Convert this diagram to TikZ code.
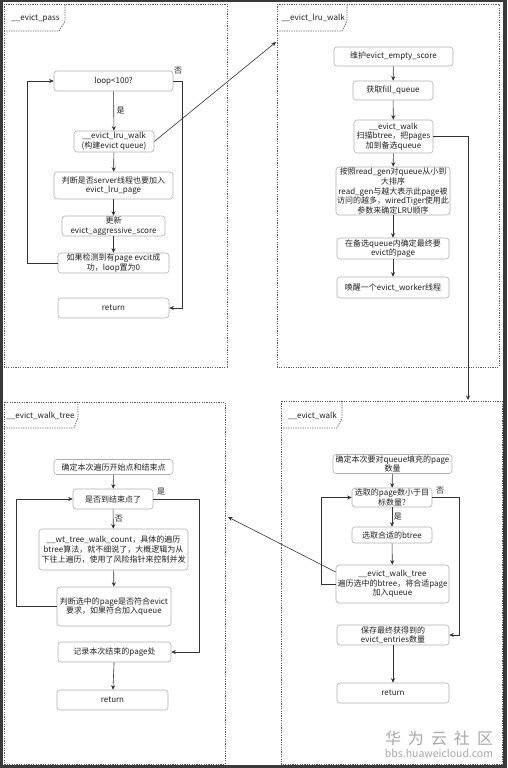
\documentclass[tikz,border=0pt]{standalone}
\usepackage{fontspec}
\setmainfont{Noto Sans CJK SC}
\usetikzlibrary{arrows.meta,calc}
\definecolor{framegray}{HTML}{3A3A3A}
\definecolor{panelgray}{HTML}{5A5A5A}
\definecolor{boxgray}{HTML}{B0B0B0}
\definecolor{linegray}{HTML}{333333}
\definecolor{txtgray}{HTML}{222222}
\definecolor{wmgray}{HTML}{A8A8A8}
\tikzset{
  box/.style={draw=boxgray, line width=0.6pt, rounded corners=3pt, fill=white, align=center,
    inner xsep=1pt, inner ysep=0pt, text=txtgray, font=\fontsize{8}{9.6}\selectfont},
  arr/.style={draw=linegray, line width=0.6pt, -{Stealth[length=4.5pt,width=4pt]}},
  panel/.style={draw=panelgray, line width=0.8pt, dash pattern=on 1.2pt off 1.2pt},
  lbl/.style={text=txtgray, font=\fontsize{8}{9}\selectfont, inner sep=0.5pt},
  tablbl/.style={text=txtgray, font=\fontsize{8}{9}\selectfont, inner sep=0pt}
}
\begin{document}
\begin{tikzpicture}[x=1pt,y=-1pt]
\useasboundingbox (0,0) rectangle (507,768);
\fill[framegray] (0,0) rectangle (507,768);
\fill[white] (2.5,2) rectangle (503,765);

% ---------- panels ----------
\draw[panel] (4,4) rectangle (227,367);
\draw[panel] (4,31) -- (59,31) -- (65,21) -- (65,4);
\node[tablbl] (t1) at (35.5,18) {\_\_evict\_pass};

\draw[panel] (277,4) rectangle (499,367);
\draw[panel] (277,31) -- (342,31) -- (347,21) -- (347,4);
\node[tablbl] (t2) at (313,18) {\_\_evict\_lru\_walk};

\draw[panel] (4,402) rectangle (225,764);
\draw[panel] (4,428) -- (74,428) -- (78,418) -- (78,402);
\node[tablbl] (t3) at (40.5,416) {\_\_evict\_walk\_tree};

\draw[panel] (281,401) rectangle (502,764);
\draw[panel] (281,428) -- (337,428) -- (342,418) -- (342,401);
\node[tablbl] (t4) at (312.5,416) {\_\_evict\_walk};

% ---------- panel 1 ----------
\node[box, minimum width=119pt, minimum height=20pt] (loop) at (113.5,81) {loop<100?};
\node[box, minimum width=80pt, minimum height=21pt] (lru) at (114,141.5) {\_\_evict\_lru\_walk\\(构建evict queue)};
\node[box, minimum width=119pt, minimum height=27pt] (judge) at (113.5,185.5) {判断是否server线程也要加入\\evict\_lru\_page};
\node[box, minimum width=103pt, minimum height=20pt] (upd) at (113.5,226) {更新\\evict\_aggressive\_score};
\node[box, minimum width=111pt, minimum height=20pt] (chk) at (113.5,263) {如果检测到有page evcit成\\功，loop置为0};
\node[box, minimum width=111pt, minimum height=20pt] (ret1) at (113.5,308) {return};

\draw[arr] (loop) -- node[lbl, right, xshift=2pt] {是} (lru);
\draw[arr] (lru) -- (judge);
\draw[arr] (judge) -- (upd);
\draw[arr] (upd) -- (chk);
\draw[arr] (chk.west) -- ++(-30,0) |- (loop.west);
\draw[arr] (loop.east) -- ++(9,0) |- (ret1.east);
\node[lbl] (no1) at (178,71) {否};

\coordinate (p2in) at (276,42);
\draw[arr] (lru.east) -- (p2in);

% ---------- panel 2 ----------
\node[box, minimum width=119pt, minimum height=19pt] (m1) at (393.5,56.5) {维护evict\_empty\_score};
\node[box, minimum width=80pt, minimum height=19pt] (m2) at (393,90.5) {获取fill\_queue};
\node[box, minimum width=79pt, minimum height=33pt] (m3) at (393.5,136.5) {\_\_evict\_walk\\扫描btree，把pages\\加到备选queue};
\node[box, minimum width=112pt, minimum height=48pt] (m4) at (393,191) {按照read\_gen对queue从小到\\大排序\\read\_gen与越大表示此page被\\访问的越多，wiredTiger使用此\\参数来确定LRU顺序};
\node[box, minimum width=112pt, minimum height=21pt] (m5) at (393,248.5) {在备选queue内确定最终要\\evict的page};
\node[box, minimum width=112pt, minimum height=21pt] (m6) at (393,287.5) {唤醒一个evict\_worker线程};

\draw[arr] (m1) -- (m2);
\draw[arr] (m2) -- (m3);
\draw[arr] (m3) -- (m4);
\draw[arr] (m4) -- (m5);
\draw[arr] (m5) -- (m6);
\coordinate (p4in) at (468,400);
\draw[arr] (m3.east) -| (p4in);

% ---------- panel 4 ----------
\node[box, minimum width=119pt, minimum height=19pt] (q1) at (392.5,464) {确定本次要对queue填充的page\\数量};
\node[box, minimum width=80pt, minimum height=19pt] (q2) at (392,497.5) {选取的page数小于目\\标数量?};
\node[box, minimum width=80pt, minimum height=16pt] (q3) at (392,535) {选取合适的btree};
\node[box, minimum width=113pt, minimum height=38pt] (q4) at (392.5,584) {\_\_evict\_walk\_tree\\遍历选中的btree，将合适page\\加入queue};
\node[box, minimum width=112pt, minimum height=20pt] (q5) at (393,635) {保存最终获得到的\\evict\_entries数量};
\node[box, minimum width=112pt, minimum height=20pt] (q6) at (393,693) {return};

\draw[arr] (q1) -- (q2);
\draw[arr] (q2) -- node[lbl, right, xshift=1pt] {是} (q3);
\draw[arr] (q3) -- (q4);
\draw[arr] (q5) -- (q6);
\draw[arr] (q4.west) -- ++(-14,0) |- (q2.west);
\draw[arr] (q2.east) -- ++(27,0) |- (q5.east);
\node[lbl] (no4) at (440,491) {否};

\coordinate (p3in) at (228,517);
\draw[arr] ([yshift=12pt]q4.west) -- (p3in);

% ---------- panel 3 ----------
\node[box, minimum width=119pt, minimum height=15pt] (r1) at (113.5,467) {确定本次遍历开始点和结束点};
\node[box, minimum width=80pt, minimum height=20pt] (r2) at (113,499) {是否到结束点了};
\node[box, minimum width=149pt, minimum height=41pt] (r3) at (113.5,549.5) {\_\_wt\_tree\_walk\_count，具体的遍历\\btree算法，就不细说了，大概逻辑为从\\下往上遍历，使用了风险指针来控制并发};
\node[box, minimum width=114pt, minimum height=39pt] (r4) at (114,606.5) {判断选中的page是否符合evict\\要求，如果符合加入queue};
\node[box, minimum width=113pt, minimum height=20pt] (r5) at (114.5,652) {记录本次结束的page处};
\node[box, minimum width=111pt, minimum height=20pt] (r6) at (112.5,700) {return};

\draw[arr] (r1) -- (r2);
\draw[arr] (r2) -- node[lbl, right, xshift=1pt] {否} (r3);
\draw[arr] (r3) -- (r4);
\draw[arr] (r5) -- (r6);
\draw[arr] (r4.west) -- ++(-40,0) |- (r2.west);
\draw[arr] (r2.east) -- ++(46,0) |- (r5.east);
\node[lbl] (yes3) at (161,492) {是};

% ---------- watermark ----------
\node[text=wmgray, font=\fontsize{16}{16}\selectfont, inner sep=0pt] (wm1) at (439,738)
  {华\hspace{7pt}为\hspace{7pt}云\hspace{7pt}社\hspace{7pt}区};
\node[text=wmgray, font=\fontsize{10.5}{11}\selectfont, inner sep=0pt] (wm2) at (439,753) {bbs.huaweicloud.com};
\end{tikzpicture}
\end{document}
